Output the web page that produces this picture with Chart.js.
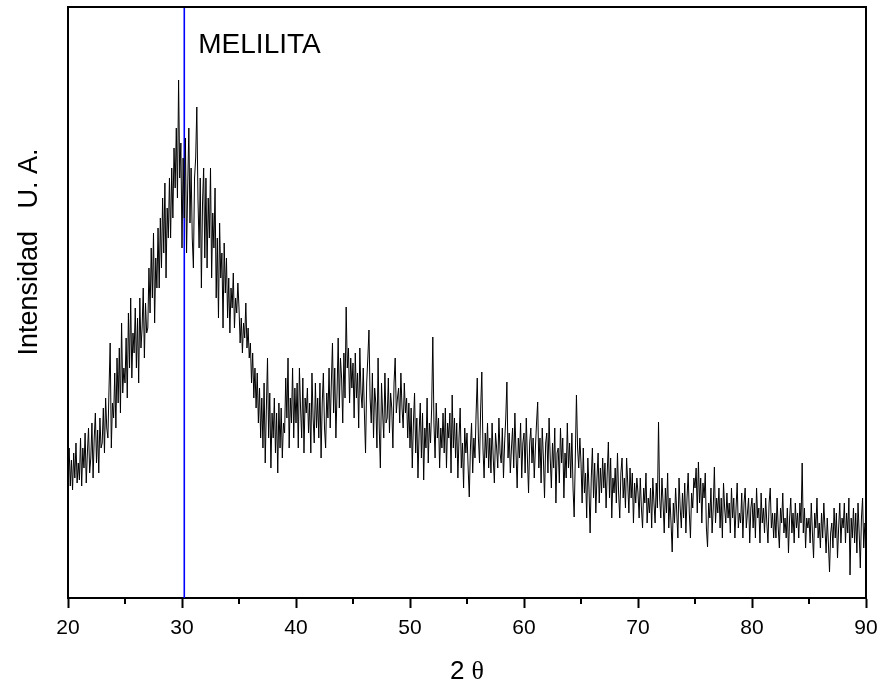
<!DOCTYPE html>
<html>
<head>
<meta charset="utf-8">
<script src="https://cdn.jsdelivr.net/npm/chart.js@4/dist/chart.umd.min.js"></script>
<style>
  html, body { margin: 0; padding: 0; background: #fff; }
  #xrd { display: block; }
</style>
</head>
<body>
<canvas id="xrd" width="881" height="684"></canvas>
<script>
// --- data (arbitrary units), one row per degree, step 0.1 ---
const START_2T = 20;
const STEP_2T = 0.1;
const intensity = [
  125, 150, 112, 138, 108, 145, 120, 155, 115, 135,   // 20
  118, 160, 112, 150, 130, 165, 115, 145, 170, 125,   // 21
  140, 175, 120, 160, 185, 135, 168, 125, 180, 150,   // 22
  155, 190, 145, 200, 170, 160, 210, 255, 150, 195,   // 23
  180, 225, 170, 240, 195, 250, 185, 275, 205, 230,   // 24
  215, 260, 200, 285, 230, 300, 220, 265, 245, 290,   // 25
  230, 280, 215, 300, 250, 270, 310, 240, 295, 265,   // 26
  270, 330, 285, 350, 300, 365, 275, 340, 310, 370,   // 27
  310, 380, 330, 400, 345, 415, 320, 390, 360, 420,   // 28
  360, 430, 380, 450, 410, 470, 400, 518, 420, 455,   // 29
  350, 440, 380, 460, 345, 410, 470, 375, 430, 360,   // 30
  330, 420, 440, 491, 400, 350, 420, 310, 395, 430,   // 31
  340, 420, 330, 400, 360, 430, 320, 385, 350, 410,   // 32
  300, 360, 280, 375, 320, 345, 270, 355, 305, 340,   // 33
  280, 320, 265, 310, 290, 325, 270, 300, 285, 315,   // 34
  290, 255, 280, 245, 275, 260, 295, 250, 270, 240,   // 35
  255, 215, 245, 200, 230, 190, 225, 175, 210, 160,   // 36
  200, 150, 215, 135, 190, 240, 160, 205, 130, 185,   // 37
  160, 200, 145, 185, 125, 195, 150, 190, 140, 175,   // 38
  165, 220, 180, 240, 150, 200, 175, 230, 160, 210,   // 39
  175, 215, 150, 230, 190, 160, 220, 145, 200, 185,   // 40
  210, 165, 195, 145, 225, 180, 155, 215, 170, 200,   // 41
  160, 215, 140, 195, 225, 170, 150, 205, 180, 230,   // 42
  170, 215, 255, 185, 230, 160, 205, 260, 190, 240,   // 43
  220, 175, 245, 200, 291, 230, 250, 195, 240, 210,   // 44
  235, 180, 245, 200, 225, 170, 250, 205, 190, 230,   // 45
  185, 145, 215, 240, 268, 200, 175, 225, 160, 210,   // 46
  195, 150, 240, 170, 130, 215, 185, 160, 225, 175,   // 47
  180, 220, 165, 205, 190, 150, 215, 240, 185, 200,   // 48
  210, 175, 225, 190, 170, 215, 185, 200, 160, 195,   // 49
  150, 190, 130, 175, 205, 145, 180, 120, 165, 195,   // 50
  140, 185, 118, 170, 150, 200, 135, 175, 155, 190,   // 51
  261, 175, 140, 195, 160, 180, 130, 170, 150, 185,   // 52
  145, 190, 130, 175, 160, 185, 125, 203, 150, 180,   // 53
  140, 175, 120, 160, 190, 130, 155, 110, 170, 145,   // 54
  165, 130, 101, 150, 175, 125, 160, 140, 185, 220,   // 55
  160, 135, 190, 226, 150, 120, 165, 140, 175, 130,   // 56
  160, 125, 175, 140, 115, 165, 150, 130, 180, 145,   // 57
  135, 170, 120, 155, 180, 216, 140, 165, 125, 150,   // 58
  170, 130, 185, 145, 110, 160, 140, 175, 120, 155,   // 59
  165, 125, 180, 140, 105, 155, 170, 135, 160, 120,   // 60
  150, 175, 196, 130, 160, 115, 170, 140, 100, 155,   // 61
  165, 125, 180, 140, 110, 155, 130, 170,  95, 145,   // 62
  150, 115, 170, 135, 160, 100, 145, 120, 175, 130,   // 63
  155, 120, 165, 110,  81, 140, 203, 150, 130, 160,   // 64
  135,  95, 150, 105, 125,  80, 140, 110,  65, 120,   // 65
  150, 100, 135,  85, 120, 145,  95, 130, 105, 140,   // 66
  110, 135,  90, 125, 156, 100, 140,  80, 120, 105,   // 67
  130,  95, 145, 105,  80, 125, 140, 100, 120,  90,   // 68
  140, 115,  85, 130, 100, 125,  75, 115,  95, 120,   // 69
  105,  80, 120,  90,  70, 110,  95, 125,  75, 100,   // 70
   85, 110,  70, 120,  95,  75, 115,  90, 176, 100,   // 71
   80, 120,  95,  65, 110,  85, 125,  70, 100,  75,   // 72
   46,  95,  75, 110,  85,  60, 120,  90,  70, 105,   // 73
   80, 115,  65, 100, 125,  85,  60, 105,  90, 120,   // 74
  110, 130,  85, 136,  95, 120,  75, 115, 100, 125,   // 75
   70,  51,  95,  80, 110,  65,  90, 131,  75, 100,   // 76
   85, 110,  70, 100,  60, 115,  90,  75, 105,  80,   // 77
   95,  65, 110,  80, 100,  60,  90, 115,  70,  85,   // 78
   75, 105,  60,  95, 110,  70,  85, 100,  55,  90,   // 79
  100,  70,  95,  60, 110,  80,  90,  55, 105,  75,   // 80
   90,  65, 100,  75,  55,  95, 110,  70,  85,  60,   // 81
   85,  60, 100,  70,  50,  90,  75, 105,  65,  80,   // 82
   60,  90,  45,  80, 100,  65,  85,  55,  95,  70,   // 83
   85,  60,  95,  75, 135,  65,  90,  50,  80,  70,   // 84
   80,  55,  95,  65,  40,  85,  70, 100,  60,  75,   // 85
   50,  85,  60,  95,  70,  45,  80,  55,  26,  65,   // 86
   75,  50,  90,  60,  85,  40,  70,  95,  55,  80,   // 87
   70,  95,  55,  85,  65, 100,  23,  80,  60,  90,   // 88
   55,  85,  45,  95,  65,  30,  80, 100,  50,  75,   // 89
   70                                                // 90
];
if (intensity.length !== 701) throw new Error('intensity length ' + intensity.length);

const xTicksMajor = [20, 30, 40, 50, 60, 70, 80, 90];
const xTicksMinor = [25, 35, 45, 55, 65, 75, 85];
const markerPos = 30.2;
const markerLabel = 'MELILITA';
const yMax = 591;

const pattern = intensity.map((v, i) => ({ x: START_2T + i * STEP_2T, y: v }));

// --- frame, minor ticks and texts ---
const decorPlugin = {
  id: 'decor',
  afterDraw(chart) {
    const { ctx, chartArea: a, scales } = chart;
    const xs = scales.x;
    ctx.save();
    ctx.strokeStyle = '#000';
    ctx.lineWidth = 2;
    ctx.beginPath();
    ctx.moveTo(a.left, a.bottom);
    ctx.lineTo(a.left, a.top);
    ctx.lineTo(a.right, a.top);
    ctx.lineTo(a.right, a.bottom);
    ctx.stroke();

    xTicksMinor.forEach(v => {
      const px = Math.round(xs.getPixelForValue(v));
      ctx.beginPath();
      ctx.moveTo(px, a.bottom);
      ctx.lineTo(px, a.bottom + 6);
      ctx.stroke();
    });

    // marker label
    ctx.fillStyle = '#000';
    ctx.font = '28px Arial, "Liberation Sans", sans-serif';
    ctx.textBaseline = 'alphabetic';
    ctx.textAlign = 'left';
    ctx.fillText(markerLabel, xs.getPixelForValue(markerPos) + 14, 53);

    // x title "2 θ"
    ctx.font = '26px Arial, "Liberation Sans", sans-serif';
    const w2 = ctx.measureText('2 ').width;
    ctx.font = '26px "Times New Roman", "Liberation Serif", serif';
    const wt = ctx.measureText('θ').width;
    const cx = (a.left + a.right) / 2;
    const sx = cx - (w2 + wt) / 2;
    ctx.font = '26px Arial, "Liberation Sans", sans-serif';
    ctx.fillText('2 ', sx, 679);
    ctx.font = '26px "Times New Roman", "Liberation Serif", serif';
    ctx.fillText('θ', sx + w2, 679);

    // y title
    ctx.translate(37, 252);
    ctx.rotate(-Math.PI / 2);
    ctx.font = '27px Arial, "Liberation Sans", sans-serif';
    ctx.textAlign = 'center';
    ctx.fillText('Intensidad   U. A.', 0, 0);
    ctx.restore();
  }
};

new Chart(document.getElementById('xrd'), {
  type: 'line',
  data: {
    datasets: [
      {
        data: pattern,
        borderColor: '#000',
        borderWidth: 1,
        pointRadius: 0,
        tension: 0,
        fill: false
      },
      {
        data: [{ x: markerPos, y: 0 }, { x: markerPos, y: yMax }],
        borderColor: '#0000ff',
        borderWidth: 1.6,
        pointRadius: 0,
        fill: false
      }
    ]
  },
  options: {
    responsive: false,
    animation: false,
    devicePixelRatio: 1,
    layout: { padding: { left: 68, right: 15, top: 7, bottom: 0 } },
    plugins: { legend: { display: false }, tooltip: { enabled: false } },
    scales: {
      x: {
        type: 'linear',
        min: 20,
        max: 90,
        afterFit(scale) {
          scale.height = 86;
          scale.paddingLeft = 0;
          scale.paddingRight = 0;
        },
        afterBuildTicks(scale) { scale.ticks = xTicksMajor.map(v => ({ value: v })); },
        ticks: {
          color: '#000',
          padding: 8,
          maxRotation: 0,
          font: { family: 'Arial, "Liberation Sans", sans-serif', size: 21 }
        },
        grid: {
          drawOnChartArea: false,
          drawTicks: true,
          tickLength: 10,
          tickColor: '#000',
          tickWidth: 2
        },
        border: { display: true, color: '#000', width: 2 }
      },
      y: {
        display: false,
        min: 0,
        max: yMax
      }
    }
  },
  plugins: [decorPlugin]
});
</script>
</body>
</html>
